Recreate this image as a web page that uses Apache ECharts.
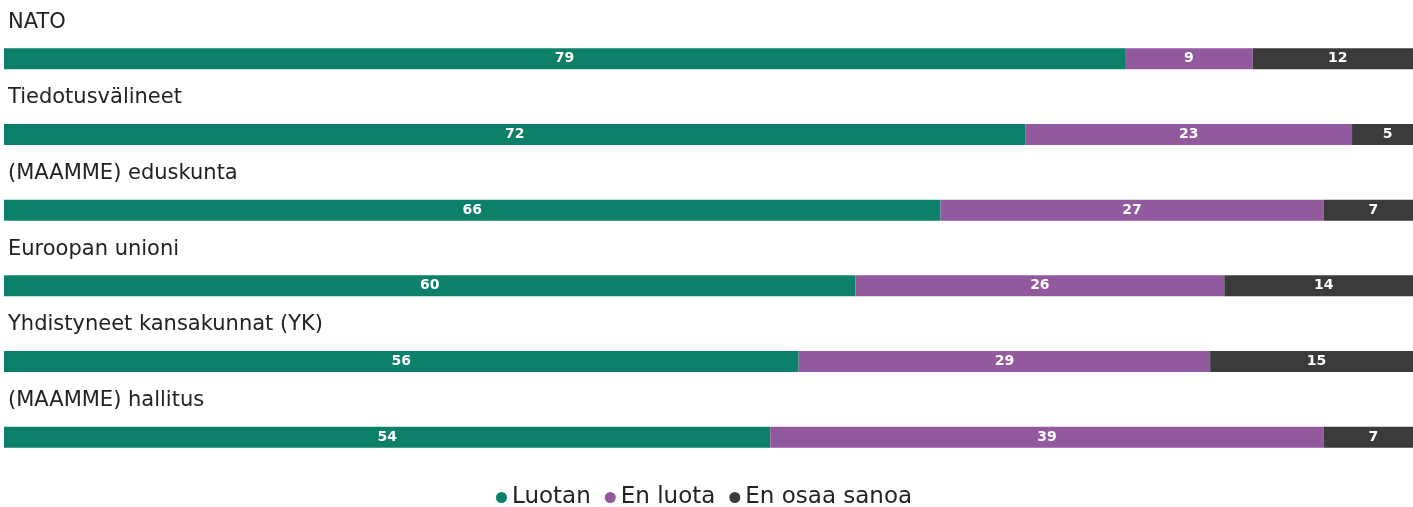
<!DOCTYPE html>
<html lang="fi">
<head>
    <meta charset="UTF-8">
    <script src="https://cdn.jsdelivr.net/npm/echarts@6/dist/echarts.min.js"></script>
    <style>
        * { margin: 0; padding: 0; }
        html, body { background: #fff; overflow: hidden; }
        /* palkit jatkuvat hieman kuvan oikean reunan yli, joten kaavio on ikkunaa leveämpi */
        #chart { width: 1423px; height: 507px; }
    </style>
</head>
<body>
<div id="chart"></div>
<script>
    // kategoriat ylhäältä alas
    var categories = ['NATO', 'Tiedotusvälineet', '(MAAMME) eduskunta', 'Euroopan unioni',
        'Yhdistyneet kansakunnat (YK)', '(MAAMME) hallitus'];
    var luotan = [79, 72, 66, 60, 56, 54];
    var enLuota = [9, 23, 27, 26, 29, 39];
    var enOsaa = [12, 5, 7, 14, 15, 7];
    var seriesNames = ['Luotan', 'En luota', 'En osaa sanoa'];
    var colors = ['#0d806a', '#92599e', '#3b3b3c'];

    var myChart = echarts.init(document.getElementById('chart'));

    function barSeries(name, data) {
        return {
            name: name,
            type: 'bar',
            stack: 'all',
            barWidth: 21,
            data: data,
            label: {
                show: true,
                position: 'inside',
                color: '#fff',
                fontFamily: 'DejaVu Sans',
                fontWeight: 'bold',
                fontSize: 14
            }
        };
    }

    var option = {
        animation: false,
        color: colors,
        grid: { left: 4, right: 0, top: 21, bottom: 32, containLabel: false },
        xAxis: {
            type: 'value', min: 0, max: 100,
            show: false
        },
        yAxis: {
            type: 'category',
            data: categories,
            inverse: true,
            axisLine: { show: false },
            axisTick: { show: false },
            axisLabel: {
                show: true,
                interval: 0,
                inside: true,
                margin: 4,
                verticalAlign: 'bottom',
                align: 'left',
                padding: [0, 0, 26, 0],
                color: '#222',
                fontFamily: 'DejaVu Sans',
                fontSize: 21
            },
            z: 10
        },
        legend: {
            top: 486,
            left: 496,
            padding: 0,
            icon: 'circle',
            itemWidth: 11,
            itemHeight: 11,
            itemGap: 14,
            textStyle: { color: '#222', fontFamily: 'DejaVu Sans', fontSize: 23, padding: [0, 0, 0, 0] },
            data: seriesNames
        },
        series: [
            barSeries(seriesNames[0], luotan),
            barSeries(seriesNames[1], enLuota),
            barSeries(seriesNames[2], enOsaa)
        ]
    };

    myChart.setOption(option);
</script>
</body>
</html>
